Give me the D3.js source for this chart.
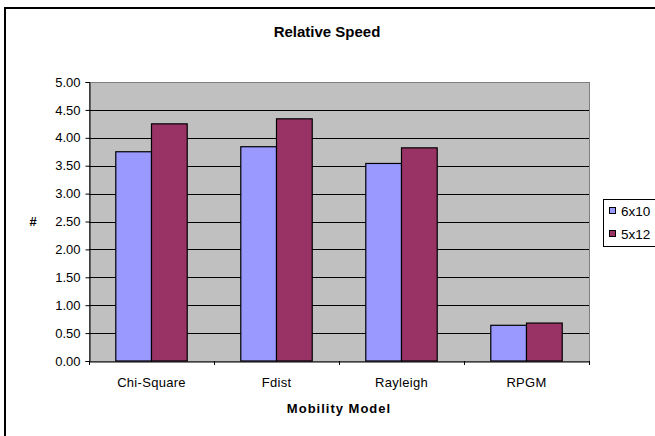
<!DOCTYPE html>
<html>
<head>
<meta charset="utf-8">
<script src="https://cdn.jsdelivr.net/npm/d3@7"></script>
<style>
  html, body { margin: 0; padding: 0; background: #fff; }
  svg { display: block; }
  text { font-family: "Liberation Sans", Arial, sans-serif; }
</style>
</head>
<body>
<svg id="chart" width="655" height="436"></svg>
<script>
const categories = ["Chi-Square", "Fdist", "Rayleigh", "RPGM"];
const seriesNames = ["6x10", "5x12"];
const values6x10 = [3.75, 3.84, 3.54, 0.64];
const values5x12 = [4.25, 4.34, 3.82, 0.68];
const yTicks = [0, 0.5, 1, 1.5, 2, 2.5, 3, 3.5, 4, 4.5, 5];
const colors = ["#9999FF", "#993366"];

const svg = d3.select("#chart");

// outer chart border
svg.append("rect").attr("x", 5).attr("y", 8).attr("width", 660).attr("height", 440)
  .attr("fill", "#fff").attr("stroke", "#000").attr("stroke-width", 2);

const plot = { left: 89, right: 589, top: 82, bottom: 361 };

const x = d3.scaleBand().domain(categories).range([plot.left, plot.right]);
const xs = d3.scaleBand().domain(seriesNames).range([0, x.bandwidth()])
  .paddingInner(0).paddingOuter(0.75);
const y = d3.scaleLinear().domain([0, 5]).range([plot.bottom, plot.top]);

// plot area
svg.append("rect").attr("x", plot.left + 0.5).attr("y", plot.top + 0.5)
  .attr("width", plot.right - plot.left).attr("height", plot.bottom - plot.top)
  .attr("fill", "#C0C0C0").attr("stroke", "#808080").attr("stroke-width", 1);

// gridlines
svg.append("g").selectAll("line").data(yTicks.filter(d => d > 0 && d < 5)).join("line")
  .attr("x1", plot.left).attr("x2", plot.right)
  .attr("y1", d => Math.round(y(d)) + 0.5).attr("y2", d => Math.round(y(d)) + 0.5)
  .attr("stroke", "#000").attr("stroke-width", 1);

// bars
const data = [values6x10, values5x12];
const g = svg.append("g");
categories.forEach((c, i) => {
  seriesNames.forEach((s, j) => {
    const v = data[j][i];
    g.append("rect")
      .attr("x", x(c) + xs(s))
      .attr("y", y(v))
      .attr("width", xs.bandwidth())
      .attr("height", y(0) - y(v))
      .attr("fill", colors[j])
      .attr("stroke", "#000").attr("stroke-width", 1.2);
  });
});

// y axis
const yAxis = d3.axisLeft(y).tickValues(yTicks).tickFormat(d3.format(".2f"))
  .tickSize(4).tickPadding(5);
const yg = svg.append("g").attr("transform", `translate(${plot.left + 0.5},0)`).call(yAxis);
yg.select(".domain").attr("stroke", "#000");
yg.selectAll(".tick line").attr("stroke", "#000");
yg.selectAll("text").attr("font-size", 13).attr("fill", "#000")
  .style("font-family", "'Liberation Sans', Arial, sans-serif");

// x axis
const xAxis = d3.axisBottom(x).tickSize(0).tickPadding(0);
const xg = svg.append("g").attr("transform", `translate(0,${plot.bottom + 0.5})`).call(xAxis);
xg.select(".domain").attr("stroke", "#000");
xg.selectAll("text").attr("font-size", 13).attr("fill", "#000").attr("dy", null)
  .attr("y", 25).attr("letter-spacing", 0.3)
  .style("font-family", "'Liberation Sans', Arial, sans-serif");
// category boundary ticks
const bounds = categories.map(c => x(c)).concat([plot.right]);
svg.append("g").selectAll("line").data(bounds).join("line")
  .attr("x1", d => Math.round(d) + 0.5).attr("x2", d => Math.round(d) + 0.5)
  .attr("y1", plot.bottom).attr("y2", plot.bottom + 4)
  .attr("stroke", "#000");

// titles
svg.append("text").attr("x", 327).attr("y", 37).attr("text-anchor", "middle")
  .attr("font-size", 15).attr("font-weight", "bold").text("Relative Speed");
svg.append("text").attr("x", (plot.left + plot.right) / 2).attr("y", 413)
  .attr("text-anchor", "middle").attr("font-size", 13).attr("font-weight", "bold")
  .attr("letter-spacing", 1).text("Mobility Model");
svg.append("text").attr("x", 33).attr("y", 226).attr("text-anchor", "middle")
  .attr("font-size", 13).attr("font-weight", "bold").text("#");

// legend
const lg = svg.append("g");
lg.append("rect").attr("x", 603.5).attr("y", 199.5).attr("width", 70).attr("height", 47)
  .attr("fill", "#fff").attr("stroke", "#000");
seriesNames.forEach((s, j) => {
  const cy = 211 + j * 23;
  lg.append("rect").attr("x", 609.5).attr("y", cy - 3.5).attr("width", 6).attr("height", 6)
    .attr("fill", colors[j]).attr("stroke", "#000");
  lg.append("text").attr("x", 621).attr("y", cy + 4.5).attr("font-size", 13.5).text(s);
});
</script>
</body>
</html>
